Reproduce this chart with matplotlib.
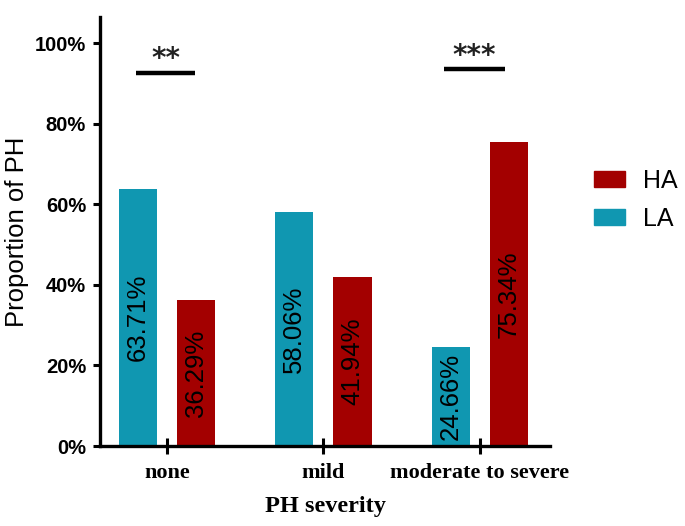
import matplotlib.pyplot as plt
from matplotlib.patches import Patch
import numpy as np

categories = ["none", "mild", "moderate to severe"]
la_values = [63.71, 58.06, 24.66]
ha_values = [36.29, 41.94, 75.34]
y_ticks = [0, 20, 40, 60, 80, 100]
y_tick_labels = ["0%", "20%", "40%", "60%", "80%", "100%"]

# significance marks: (category index, x start, x end, line height, label)
sig_marks = [(0, -0.20, 0.18, 92.6, "**"), (2, -0.23, 0.16, 93.5, "***")]

la_color = "#1097B1"
ha_color = "#A30000"

fig = plt.figure(figsize=(6.85, 5.26), dpi=100)
ax = fig.add_axes([0.146, 0.152, 0.657, 0.816])

x = np.arange(len(categories))
w = 0.244
off = 0.186
ax.bar(x - off, la_values, w, color=la_color, label="LA")
ax.bar(x + off, ha_values, w, color=ha_color, label="HA")

for xi, v in zip(x - off, la_values):
    ax.text(xi, v / 2, "%.2f%%" % v, rotation=90, ha="center", va="center",
            fontsize=18.5, family="Liberation Sans", color="black")
for xi, v in zip(x + off, ha_values):
    ax.text(xi, v / 2, "%.2f%%" % v, rotation=90, ha="center", va="center",
            fontsize=18.5, family="Liberation Sans", color="black")

for ci, x0, x1, yl, lab in sig_marks:
    ax.plot([ci + x0, ci + x1], [yl, yl], color="black", lw=3.2,
            solid_capstyle="butt")
    ax.text(ci + (x0 + x1) / 2, yl + 1.4, lab, ha="center", va="baseline",
            fontsize=20, fontweight="bold", family="DejaVu Sans",
            color="#222222")

ax.set_xlim(-0.43, 2.45)
ax.set_ylim(0, 106.5)
ax.set_yticks(y_ticks)
ax.set_yticklabels(y_tick_labels, fontsize=14.5, fontweight="bold",
                   family="Liberation Sans")
ax.set_xticks(x)
ax.set_xticklabels(categories, fontsize=16, fontweight="bold",
                   family="Liberation Serif")

for s in ["top", "right"]:
    ax.spines[s].set_visible(False)
for s in ["left", "bottom"]:
    ax.spines[s].set_linewidth(2.4)

ax.tick_params(axis="y", direction="out", length=5, width=2.2, pad=5)
ax.tick_params(axis="x", direction="inout", length=11, width=2.2, pad=7)

ax.set_ylabel("Proportion of PH", fontsize=18.5, family="Liberation Sans",
              labelpad=4)
ax.set_xlabel("PH severity", fontsize=17.5, fontweight="bold",
              family="Liberation Serif", labelpad=9)

handles = [Patch(color=ha_color, label="HA"), Patch(color=la_color, label="LA")]
fig.legend(handles=handles, loc="center left", bbox_to_anchor=(0.834, 0.62),
           frameon=False, prop={"family": "Liberation Sans", "size": 18},
           handlelength=1.25, handleheight=0.6, labelspacing=0.55,
           handletextpad=0.7)

plt.savefig("out.png", dpi=100)
